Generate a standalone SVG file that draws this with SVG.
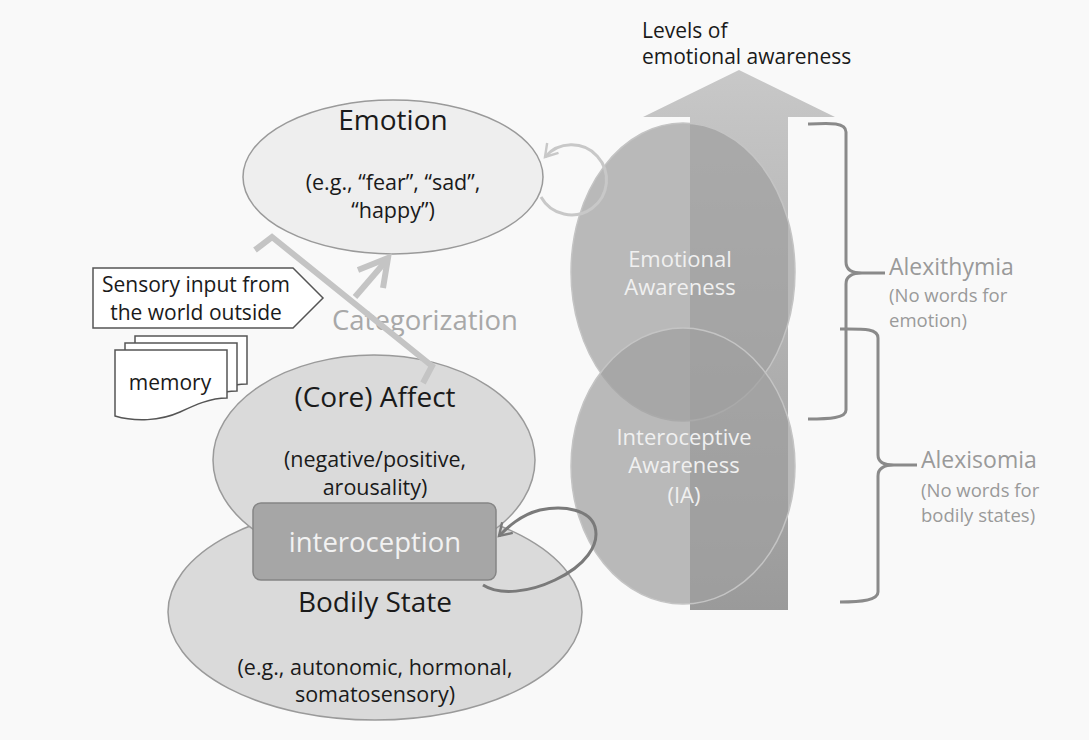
<svg xmlns="http://www.w3.org/2000/svg" width="1089" height="740" viewBox="0 0 1089 740">
<style>
text{font-family:"Open Sans","Noto Sans",sans-serif;text-anchor:middle}
.dark{fill:#1a1a1a}
.main{font-size:28px}
.sub{font-size:21.5px}
.node{fill:#dadada;stroke:#9a9a9a;stroke-width:1.5}
.aw{fill:#a0a0a0;fill-opacity:0.72;stroke:#c4c4c4;stroke-width:1.5}
.awt{fill:#f0f0f0;font-size:22px}
.doc{fill:#ffffff;stroke:#555;stroke-width:1.5}
.brace{fill:none;stroke:#8a8a8a;stroke-width:3}
.lab{fill:#9a9a9a;text-anchor:start}
</style>
<defs>
<linearGradient id="shaft" gradientUnits="userSpaceOnUse" x1="0" y1="70" x2="0" y2="610">
<stop offset="0" stop-color="#c8c8c8"/>
<stop offset="1" stop-color="#9a9a9a"/>
</linearGradient>
<marker id="openL" viewBox="0 0 12 12" refX="10" refY="6" markerWidth="6" markerHeight="6" orient="auto" markerUnits="strokeWidth">
<path d="M2,1 L10,6 L2,11" fill="none" stroke="#c8c8c8" stroke-width="1.6"/>
</marker>
<marker id="openD" viewBox="0 0 12 12" refX="10" refY="6" markerWidth="6" markerHeight="6" orient="auto" markerUnits="strokeWidth">
<path d="M2,1 L10,6 L2,11" fill="none" stroke="#7a7a7a" stroke-width="1.6"/>
</marker>
</defs>
<rect x="0" y="0" width="1089" height="740" fill="#f9f9f9"/>

<g id="levels-arrow">
<polygon points="643,117 739,70 835,117 788,117 788,610 690,610 690,117" fill="url(#shaft)"/>
<text class="dark" x="642" y="38" style="font-size:21px;text-anchor:start">Levels of</text>
<text class="dark" x="642" y="64" style="font-size:21px;text-anchor:start">emotional awareness</text>
</g>

<g id="emotional-awareness">
<ellipse class="aw" cx="683" cy="272" rx="112" ry="149"/>
<text class="awt" x="680" y="267">Emotional</text>
<text class="awt" x="680" y="295">Awareness</text>
</g>

<g id="interoceptive-awareness">
<ellipse class="aw" cx="683" cy="466" rx="112" ry="138"/>
<text class="awt" x="684" y="445">Interoceptive</text>
<text class="awt" x="684" y="473">Awareness</text>
<text class="awt" x="684" y="503">(IA)</text>
</g>

<g id="emotion">
<ellipse cx="393" cy="177" rx="150" ry="77" fill="#eeeeee" stroke="#9a9a9a" stroke-width="1.5"/>
<text class="dark main" x="393" y="130">Emotion</text>
<text class="dark sub" x="393" y="190">(e.g., “fear”, “sad”,</text>
<text class="dark sub" x="393" y="218">“happy”)</text>
</g>

<g id="sensory-input">
<path d="M93,268 H293 L323,298 L293,328 H93 Z" fill="#ffffff" stroke="#555" stroke-width="1.5"/>
<text class="dark" x="196" y="292" style="font-size:21px">Sensory input from</text>
<text class="dark" x="196" y="320" style="font-size:21px">the world outside</text>
</g>

<g id="memory">
<path class="doc" transform="translate(20,-14)" d="M115,350 H227 V398 C210,398 195,405 180,412 C160,421 135,422 115,416 Z"/>
<path class="doc" transform="translate(10,-7)" d="M115,350 H227 V398 C210,398 195,405 180,412 C160,421 135,422 115,416 Z"/>
<path class="doc" d="M115,350 H227 V398 C210,398 195,405 180,412 C160,421 135,422 115,416 Z"/>
<text class="dark" x="170" y="390" style="font-size:21px">memory</text>
</g>

<g id="bodily-state">
<ellipse class="node" cx="375" cy="612" rx="207" ry="108"/>
<text class="dark main" x="375" y="612">Bodily State</text>
<text class="dark sub" x="375" y="675">(e.g., autonomic, hormonal,</text>
<text class="dark sub" x="375" y="702">somatosensory)</text>
</g>

<g id="core-affect">
<ellipse class="node" cx="374" cy="460" rx="161" ry="105" fill="#d6d6d6"/>
<text class="dark main" x="375" y="407">(Core) Affect</text>
<text class="dark sub" x="375" y="467">(negative/positive,</text>
<text class="dark sub" x="375" y="495">arousality)</text>
</g>

<g id="interoception">
<rect x="253" y="503" width="243" height="77" rx="8" fill="#a6a6a6" stroke="#858585" stroke-width="1.5"/>
<text x="375" y="552" style="font-size:27.5px;fill:#f2f2f2">interoception</text>
</g>

<g id="categorization-label">
<text x="332" y="330" style="font-size:27.5px;fill:#a8a8a8;text-anchor:start">Categorization</text>
</g>

<g id="alexithymia">
<path class="brace" d="M808,124 C830,123 846,122 846,132 L846,262 C846,270 852,273 862,273 L885,273 M862,273 C852,273 846,276 846,284 L846,410 C846,418 830,419 808,419"/>
<text class="lab" x="889" y="275" style="font-size:23px">Alexithymia</text>
<text class="lab" x="889" y="302" style="font-size:18.5px">(No words for</text>
<text class="lab" x="889" y="327" style="font-size:18.5px">emotion)</text>
</g>

<g id="alexisomia">
<path class="brace" d="M840,329 C862,329 878,328 878,338 L878,455 C878,462 884,465 894,465 L917,465 M894,465 C884,465 878,468 878,476 L878,592 C878,600 862,602 840,602"/>
<text class="lab" x="921" y="468" style="font-size:23px">Alexisomia</text>
<text class="lab" x="921" y="497" style="font-size:18.5px">(No words for</text>
<text class="lab" x="921" y="522" style="font-size:18.5px">bodily states)</text>
</g>

<g id="connectors">
<path d="M255,250 L272,237 L432,366 L423,383" fill="none" stroke="#c4c4c4" stroke-width="6"/>
<path d="M355,297 L386,261" fill="none" stroke="#c4c4c4" stroke-width="6"/>
<path d="M358,270 L388,258 L383,288" fill="none" stroke="#c4c4c4" stroke-width="6" stroke-linejoin="miter"/>
<path d="M541,197 A35,35 0 1 0 545,157" fill="none" stroke="#c8c8c8" stroke-width="3" marker-end="url(#openL)"/>
<path d="M483,585 C500,596 530,592 555,580 C585,566 600,545 595,527 C590,510 565,505 540,510 C520,515 507,528 499,536" fill="none" stroke="#7a7a7a" stroke-width="3" marker-end="url(#openD)"/>
</g>
</svg>
